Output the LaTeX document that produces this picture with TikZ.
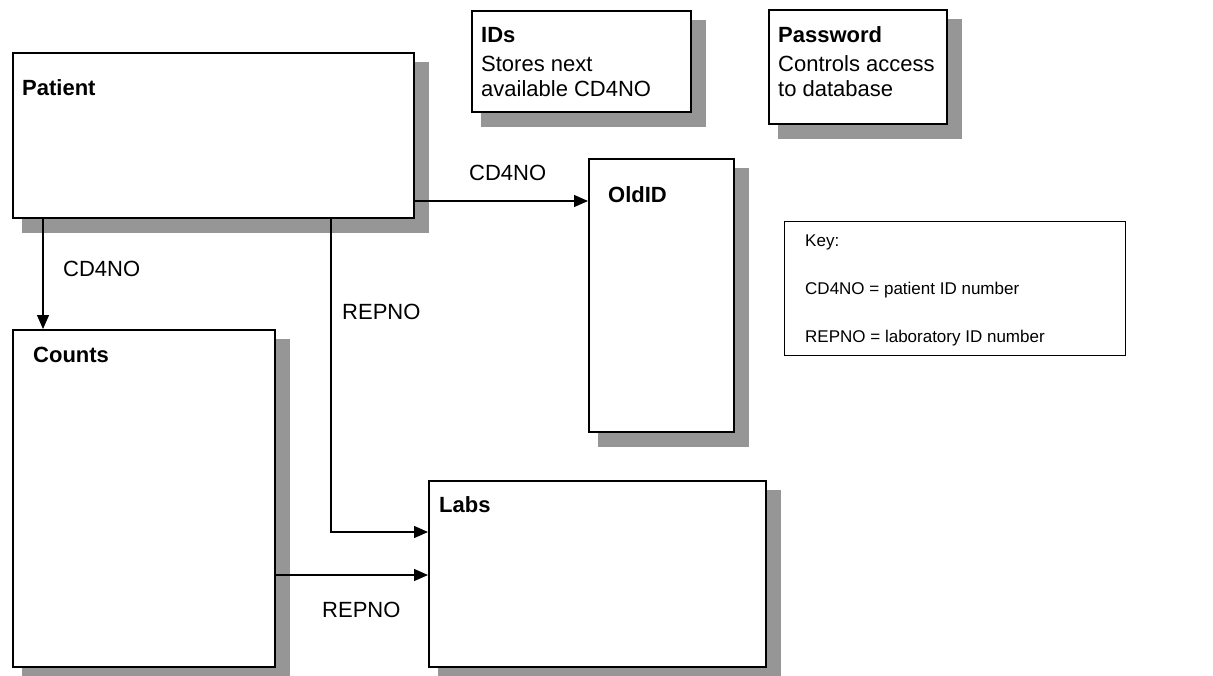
\documentclass[tikz,border=0pt]{standalone}
\usepackage{fontspec}
\setmainfont{Liberation Sans}
\usetikzlibrary{arrows.meta,backgrounds}
\definecolor{shadowgray}{RGB}{150,150,150}
\tikzset{
  tbl/.style={draw=black, line width=1.6pt, fill=white, inner sep=0pt, anchor=north west},
  keybox/.style={draw=black, line width=1.4pt, fill=white, inner sep=0pt, anchor=north west},
  ttl/.style={font=\fontsize{22}{25}\selectfont\bfseries, anchor=west, inner sep=0pt},
  txt/.style={font=\fontsize{22}{25}\selectfont, anchor=west, align=left, inner sep=0pt},
  lbl/.style={font=\fontsize{22}{25}\selectfont, anchor=west, inner sep=0pt},
  keytxt/.style={font=\fontsize{17}{20}\selectfont, anchor=west, inner sep=0pt},
  arr/.style={line width=1.3pt, -{Triangle[length=14pt,width=12pt]}},
}
\newcommand{\boxshadow}[1]{%
  \fill[shadowgray] ([xshift=10pt,yshift=-10pt]#1.north west) rectangle ([xshift=14pt,yshift=-14pt]#1.south east);}
\begin{document}
\begin{tikzpicture}[x=1pt,y=-1pt]
\useasboundingbox (0,0) rectangle (1213,675);

% tables
\node[tbl, minimum width=401pt, minimum height=165pt] (patient) at (12,52) {};
\node[tbl, minimum width=219pt, minimum height=101pt] (ids) at (471,10) {};
\node[tbl, minimum width=178pt, minimum height=114pt] (password) at (768,9) {};
\node[tbl, minimum width=145pt, minimum height=273pt] (oldid) at (588,158) {};
\node[tbl, minimum width=262pt, minimum height=337pt] (counts) at (12,329) {};
\node[tbl, minimum width=337pt, minimum height=186pt] (labs) at (428,480) {};
\node[keybox, minimum width=341pt, minimum height=134pt] (key) at (784,221) {};

% drop shadows
\begin{scope}[on background layer]
  \boxshadow{patient}
  \boxshadow{ids}
  \boxshadow{password}
  \boxshadow{oldid}
  \boxshadow{counts}
  \boxshadow{labs}
\end{scope}

% table titles and descriptions
\node[ttl] (patientT) at (22,88) {Patient};
\node[ttl] (idsT) at (481,35) {IDs};
\node[txt] (idsD) at (481,76) {Stores next\\available CD4NO};
\node[ttl] (passwordT) at (778,35) {Password};
\node[txt] (passwordD) at (778,76) {Controls access\\to database};
\node[ttl] (oldidT) at (608,195) {OldID};
\node[ttl] (countsT) at (33,355) {Counts};
\node[ttl] (labsT) at (439,505) {Labs};

% key
\node[keytxt] (k1) at (805,242) {Key:};
\node[keytxt] (k2) at (805,290) {CD4NO = patient ID number};
\node[keytxt] (k3) at (805,338) {REPNO = laboratory ID number};

% relationships
\coordinate (pcx) at (43,0);
\coordinate (poy) at (0,201);
\coordinate (rep) at (331,532);
\coordinate (cly) at (0,575);
\draw[arr] (patient.south -| pcx) -- (counts.north -| pcx);
\draw[arr] (patient.east |- poy) -- (oldid.west |- poy);
\draw[arr] (patient.south -| rep) |- (labs.west |- rep);
\draw[arr] (counts.east |- cly) -- (labs.west |- cly);

\node[lbl] (l1) at (63,269) {CD4NO};
\node[lbl] (l2) at (469,173) {CD4NO};
\node[lbl] (l3) at (342,312) {REPNO};
\node[lbl] (l4) at (322,610) {REPNO};
\end{tikzpicture}
\end{document}
